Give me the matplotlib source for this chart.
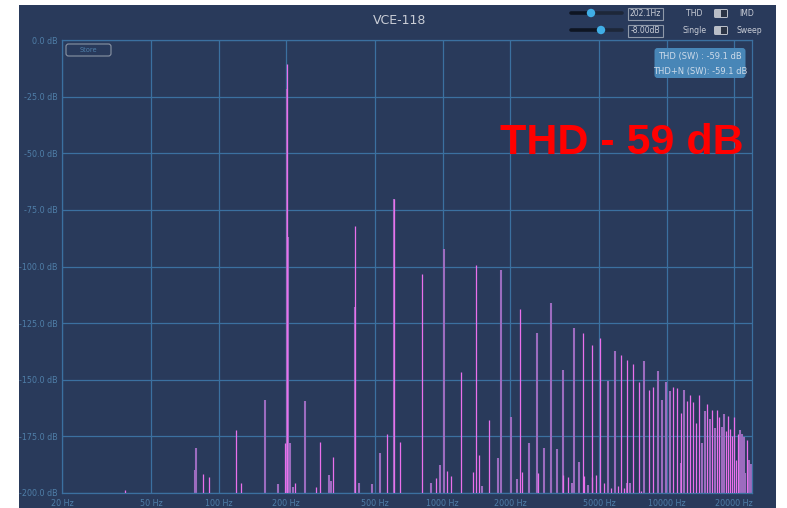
import matplotlib
matplotlib.use("Agg")
import matplotlib.pyplot as plt
from matplotlib.patches import FancyBboxPatch, Rectangle, Circle

# ---------------------------------------------------------------- data
FUNDAMENTAL_HZ = 202.1

# harmonic orders (multiples of the fundamental) and their levels in dB
bright_orders = [1, 2, 3, 4, 6, 7, 8, 11, 18, 21,
                 23, 24, 25, 26, 28, 30, 31, 32, 33, 35,
                 37, 38, 41, 43, 53, 55, 57, 61, 63, 65,
                 67, 69, 75, 79, 83, 85, 91, 93, 95, 97,
                 99, 101, 103, 113]
bright_db = [-10.6, -82.1, -70.2, -103.3, -146.6, -99.3, -167.8, -118.9, -193.0, -129.2,
             -134.8, -192.0, -131.7, -195.6, -197.8, -197.0, -139.0, -197.8, -141.1, -143.0,
             -151.0, -199.0, -154.5, -153.3, -153.3, -153.6, -164.5, -159.5, -156.7, -159.7,
             -169.0, -156.7, -160.7, -163.4, -163.4, -166.6, -172.5, -166.0, -171.9, -174.9,
             -166.6, -185.4, -174.0, -176.8]

muted_orders = [3, 5, 9, 10, 12, 13, 14, 15, 16, 17,
                19, 20, 22, 27, 29, 34, 39, 45, 47, 49,
                51, 59, 71, 73, 77, 81, 87, 89, 105, 107,
                109, 111, 115, 117]
muted_db = [-70.2, -92.4, -101.5, -166.4, -178.0, -129.5, -180.0, -116.2, -180.6, -145.7,
            -127.2, -186.4, -196.8, -150.4, -137.3, -195.6, -141.7, -146.0, -159.0, -150.8,
            -154.8, -154.5, -177.8, -164.0, -167.5, -171.3, -171.0, -165.1, -172.2, -174.0,
            -175.2, -191.3, -185.4, -187.0]

# non-harmonic spurs (mains hum, sidebands, leakage)
bright_spur_hz = [38.2, 84.9, 90.9, 120.0, 126.0, 196.8, 220.0, 272.0, 284.5, 325.3,
                  564.9, 647.6, 928.6, 1050.0, 1091.0, 1371.0, 1454.0, 2270.0, 2667.0, 3431.0,
                  4280.0, 4631.0]
bright_spur_db = [-198.7, -191.8, -193.1, -172.3, -195.5, -177.8, -195.7, -197.2, -177.6, -184.3,
                  -174.0, -177.5, -193.2, -190.1, -192.5, -190.6, -183.2, -190.9, -191.0, -192.0,
                  -192.5, -192.8]

muted_spur_hz = [79.1, 78.3, 161.0, 184.7, 201.0, 203.3, 208.4, 213.9, 243.0, 312.0,
                 318.7, 405.5, 424.9, 482.6, 524.0, 885.0, 974.0, 1500.0, 1773.0, 2149.0,
                 2622.0, 3048.0, 3783.0, 4445.0, 5493.0, 6638.0, 9911.0, 11600.0]
muted_spur_db = [-180.3, -190.0, -159.0, -196.2, -21.8, -86.8, -178.1, -197.4, -159.4, -192.0,
                 -194.6, -117.7, -195.7, -196.2, -182.3, -195.4, -187.6, -196.9, -184.4, -194.0,
                 -191.3, -193.4, -195.7, -196.5, -195.6, -195.6, -189.8, -186.9]

x_ticks_hz = [20, 50, 100, 200, 500, 1000, 2000, 5000, 10000, 20000]
x_tick_labels = ["20 Hz", "50 Hz", "100 Hz", "200 Hz", "500 Hz", "1000 Hz",
                 "2000 Hz", "5000 Hz", "10000 Hz", "20000 Hz"]
y_ticks_db = [0, -25, -50, -75, -100, -125, -150, -175, -200]
y_tick_labels = ["0.0 dB", "-25.0 dB", "-50.0 dB", "-75.0 dB", "-100.0 dB",
                 "-125.0 dB", "-150.0 dB", "-175.0 dB", "-200.0 dB"]

freq_range = (20, 24000)
db_range = (-200, 0)

title = "VCE-118"
freq_setting = "202.1Hz"
level_setting = "-8.00dB"
thd_line = "THD (SW) : -59.1 dB"
thdn_line = "THD+N (SW): -59.1 dB"
headline = "THD - 59 dB"

# ---------------------------------------------------------------- style
PANEL = "#293a5b"
GRID = "#3b70a0"
TICK = "#4f7ea8"
PINK = "#ea70ec"
MUTED = "#9c6cbf"
LIGHT = "#c9cdd6"

W, H = 787, 508
fig = plt.figure(figsize=(W / 100, H / 100), dpi=100)
fig.patch.set_facecolor("white")

# pixel-space layer behind everything (panel)
bg = fig.add_axes([0, 0, 1, 1], zorder=0)
bg.set_xlim(0, W)
bg.set_ylim(H, 0)
bg.axis("off")
bg.add_patch(Rectangle((19, 5), 757, 503, facecolor=PANEL, edgecolor="none"))

# spectrum axes
L, R, T, B = 62, 752, 40, 493
ax = fig.add_axes([L / W, 1 - B / H, (R - L) / W, (B - T) / H], zorder=1)
ax.set_facecolor(PANEL)
ax.set_xscale("log")
ax.set_xlim(*freq_range)
ax.set_ylim(*db_range)

ax.set_xticks(x_ticks_hz)
ax.set_xticklabels(x_tick_labels)
ax.xaxis.set_minor_locator(matplotlib.ticker.NullLocator())
ax.set_yticks(y_ticks_db)
ax.set_yticklabels(y_tick_labels)
ax.tick_params(axis="both", length=0, colors=TICK, labelsize=5.8)
ax.tick_params(axis="x", pad=4)
ax.tick_params(axis="y", pad=3)
ax.grid(True, color=GRID, lw=0.9)
ax.set_axisbelow(True)
for s in ax.spines.values():
    s.set_color(GRID)
    s.set_linewidth(0.9)

bottom = db_range[0]
muted_hz = [o * FUNDAMENTAL_HZ for o in muted_orders] + muted_spur_hz
muted_lv = muted_db + muted_spur_db
bright_hz = [o * FUNDAMENTAL_HZ for o in bright_orders] + bright_spur_hz
bright_lv = bright_db + bright_spur_db

ax.vlines(muted_hz, bottom, muted_lv, colors=MUTED, lw=1.5, zorder=2)
ax.vlines(bright_hz, bottom, bright_lv, colors=PINK, lw=0.9, zorder=3)

# pixel-space overlay for the instrument controls and read-outs
ov = fig.add_axes([0, 0, 1, 1], zorder=5)
ov.set_xlim(0, W)
ov.set_ylim(H, 0)
ov.axis("off")
ov.patch.set_alpha(0)

ov.text(400, 21, title, ha="center", va="center", color=LIGHT, fontsize=9)

# Store button
ov.add_patch(FancyBboxPatch((66, 44), 45, 12, boxstyle="round,pad=0,rounding_size=2.5",
                            facecolor="none", edgecolor="#8a94a4", lw=0.8))
ov.text(88.5, 50.3, "Store", ha="center", va="center", color=TICK, fontsize=4.8)

# sliders
for yy, knob in ((13, 591), (30, 601)):
    ov.plot([571, knob], [yy, yy], color="#0e1522", lw=2.6, solid_capstyle="round")
    ov.plot([knob, 622], [yy, yy], color="#1d2739", lw=2.6, solid_capstyle="round")
    ov.add_patch(Circle((knob, yy), 4.2, facecolor="#40aee6", edgecolor="none", zorder=4))

# value boxes
for yy, txt in ((7.5, freq_setting), (24.5, level_setting)):
    ov.add_patch(Rectangle((628, yy), 34.5, 12, facecolor="none", edgecolor="#8f99a9", lw=0.8))
    ov.text(645.3, yy + 6.3, txt, ha="center", va="center", color=LIGHT, fontsize=5.5)

# toggles
for yy, left_lab, right_lab, rx in ((13.5, "THD", "IMD", 747), (30.5, "Single", "Sweep", 749)):
    ov.text(694.5, yy, left_lab, ha="center", va="center", color=LIGHT, fontsize=5.6)
    ov.text(rx, yy, right_lab, ha="center", va="center", color=LIGHT, fontsize=5.6)
    ov.add_patch(FancyBboxPatch((714, yy - 4.5), 14, 9, boxstyle="round,pad=0,rounding_size=1.5",
                                facecolor="#b9bec7", edgecolor="none"))
    ov.add_patch(Rectangle((720.5, yy - 3.3), 6.2, 6.6, facecolor="#2b3445", edgecolor="none"))

# THD read-out box
ov.add_patch(FancyBboxPatch((654.5, 48), 91, 30, boxstyle="round,pad=0,rounding_size=3",
                            facecolor="#4886b7", edgecolor="none"))
ov.text(700, 56.5, thd_line, ha="center", va="center", color="#cddbea", fontsize=6)
ov.text(700, 71.5, thdn_line, ha="center", va="center", color="#cddbea", fontsize=6)

# headline
ov.text(500, 154, headline, ha="left", va="baseline", color="#ff0000",
        fontsize=31, fontweight="bold", family="Liberation Sans")

fig.savefig("out.png", dpi=100, facecolor=fig.get_facecolor())
